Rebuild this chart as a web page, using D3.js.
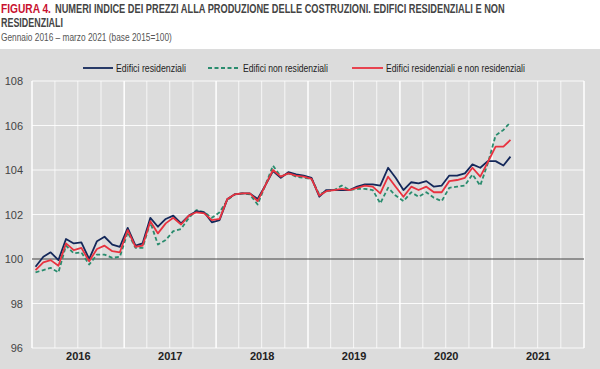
<!DOCTYPE html>
<html>
<head>
<meta charset="utf-8">
<script src="https://cdn.jsdelivr.net/npm/d3@7/dist/d3.min.js"></script>
<style>
  body { margin: 0; background: #fff; }
  svg { display: block; font-family: "Liberation Sans Narrow", "Arial Narrow", "Liberation Sans", sans-serif; }
</style>
</head>
<body>
<svg id="chart" width="600" height="369"></svg>
<script>
// monthly index values, Jan 2016 - Mar 2021 (base 2015=100)
var residenziali = [
  99.65, 100.1, 100.3, 99.95, 100.9, 100.7, 100.75, 100.0, 100.8, 101.0, 100.65, 100.55,
  101.4, 100.6, 100.7, 101.85, 101.45, 101.8, 101.95, 101.6, 101.95, 102.15, 102.1, 101.65,
  101.75, 102.7, 102.9, 102.95, 102.95, 102.7, 103.3, 103.95, 103.65, 103.9, 103.8, 103.75,
  103.65, 102.8, 103.1, 103.1, 103.1, 103.1, 103.25, 103.35, 103.35, 103.3, 104.1, 103.65,
  103.1, 103.45, 103.4, 103.5, 103.25, 103.3, 103.75, 103.75, 103.85, 104.25, 104.1, 104.4,
  104.4, 104.2, 104.6
];
var nonResidenziali = [
  99.4, 99.5, 99.6, 99.4, 100.6, 100.25, 100.3, 99.75, 100.2, 100.2, 100.05, 100.1,
  101.2, 100.5, 100.5, 101.65, 100.65, 100.85, 101.25, 101.35, 101.85, 102.2, 102.1, 101.85,
  102.1, 102.65, 102.9, 102.95, 102.9, 102.45, 103.3, 104.2, 103.7, 103.85, 103.7, 103.65,
  103.6, 102.9, 103.05, 103.1, 103.3, 103.1, 103.15, 103.15, 103.1, 102.5, 103.2, 102.85,
  102.6, 103.0, 102.8, 103.0, 102.75, 102.6, 103.2, 103.25, 103.3, 103.8, 103.3, 104.3,
  105.55, 105.8, 106.15
];
var totale = [
  99.5, 99.85, 99.95, 99.7, 100.7, 100.4, 100.5, 99.9, 100.45, 100.6, 100.35, 100.3,
  101.3, 100.55, 100.6, 101.7, 101.15, 101.6, 101.85, 101.55, 101.95, 102.1, 102.05, 101.75,
  101.8, 102.7, 102.9, 102.95, 102.95, 102.6, 103.3, 104.0, 103.7, 103.85, 103.75, 103.7,
  103.6, 102.85, 103.05, 103.1, 103.15, 103.1, 103.2, 103.3, 103.25, 102.95, 103.7, 103.25,
  102.8, 103.25, 103.1, 103.25, 103.0, 103.0, 103.5, 103.55, 103.65, 104.1, 103.7, 104.35,
  105.05, 105.05, 105.35
];
var years = [2016, 2017, 2018, 2019, 2020, 2021];
var yTicks = [96, 98, 100, 102, 104, 106, 108];
var seriesNames = ["Edifici residenziali", "Edifici non residenziali", "Edifici residenziali e non residenziali"];

var svg = d3.select("#chart");
var margin = {top: 81, right: 16, bottom: 21, left: 32};
var W = 600, H = 369;

// squeeze a text horizontally to a target width (keeps the glyph height)
function fitText(sel, px, py, width) {
  var natural = sel.node().getComputedTextLength();
  var sx = Math.min(1, width / natural);
  sel.attr("x", 0).attr("y", 0)
    .attr("transform", "translate(" + px + "," + py + ") scale(" + sx + ",1)");
  return sel;
}

// grey panel behind legend and plot
svg.append("rect").attr("x", 0).attr("y", 49).attr("width", W).attr("height", H - 49).attr("fill", "#dcdcdc");

// titles
fitText(svg.append("text").attr("font-size", 12.5).attr("font-weight", "bold").attr("fill", "#c8102e")
    .text("FIGURA 4."), 1, 13, 50);
fitText(svg.append("text").attr("font-size", 12.5).attr("font-weight", "bold").attr("fill", "#444")
    .text("NUMERI INDICE DEI PREZZI ALLA PRODUZIONE DELLE COSTRUZIONI. EDIFICI RESIDENZIALI E NON"), 55, 13, 450);
fitText(svg.append("text").attr("font-size", 12.5).attr("font-weight", "bold").attr("fill", "#444")
    .text("RESIDENZIALI"), 1, 27, 62);
fitText(svg.append("text").attr("font-size", 10.5).attr("fill", "#555")
    .text("Gennaio 2016 \u2013 marzo 2021 (base 2015=100)"), 1, 41, 171);

var x = d3.scaleTime()
    .domain([new Date(2016, 0, 1), new Date(2022, 0, 1)])
    .range([margin.left, W - margin.right]);
var y = d3.scaleLinear().domain([96, 108]).range([H - margin.bottom, margin.top]);

var g = svg.append("g");

// quarterly vertical gridlines, brighter at year starts
var quarters = d3.timeMonth.every(3).range(new Date(2016, 0, 1), new Date(2022, 0, 2));
g.selectAll(".vgrid").data(quarters).enter().append("line")
    .attr("x1", function (d) { return x(d); }).attr("x2", function (d) { return x(d); })
    .attr("y1", y(108)).attr("y2", y(96))
    .attr("stroke", "#fff")
    .attr("stroke-opacity", function (d) { return d.getMonth() === 0 ? 1 : 0.75; })
    .attr("stroke-width", function (d) { return d.getMonth() === 0 ? 1.5 : 1; });

// horizontal gridlines
g.selectAll(".hgrid").data(yTicks).enter().append("line")
    .attr("x1", x.range()[0]).attr("x2", x.range()[1])
    .attr("y1", function (d) { return y(d); }).attr("y2", function (d) { return y(d); })
    .attr("stroke", function (d) { return d === 100 ? "#444" : "#fff"; })
    .attr("stroke-width", 1)
    .attr("stroke-opacity", function (d) { return d === 100 ? 1 : 0.85; });

// y axis labels
var yAxis = svg.append("g").attr("transform", "translate(" + (margin.left - 7) + ",0)")
    .call(d3.axisLeft(y).tickValues(yTicks).tickSize(0).tickPadding(2));
yAxis.select(".domain").remove();
yAxis.selectAll("text").attr("font-size", 11).attr("fill", "#444")
    .attr("font-family", "\"Liberation Sans Narrow\", \"Liberation Sans\", sans-serif");

// x axis year labels centred on each year
var xAxis = svg.append("g").attr("transform", "translate(0," + (H - margin.bottom) + ")")
    .call(d3.axisBottom(x).tickValues(years.map(function (yr) { return new Date(yr, 6, 1); }))
      .tickFormat(d3.timeFormat("%Y")).tickSize(0).tickPadding(4));
xAxis.select(".domain").remove();
xAxis.selectAll("text").attr("font-size", 11).attr("font-weight", "bold").attr("fill", "#222")
    .attr("font-family", "\"Liberation Sans Narrow\", \"Liberation Sans\", sans-serif");

function monthDate(i) { return new Date(2016, i, 15); }
var line = d3.line()
    .x(function (d, i) { return x(monthDate(i)); })
    .y(function (d) { return y(d); });

var series = [
  {name: seriesNames[0], values: residenziali, color: "#14285a", dash: null},
  {name: seriesNames[1], values: nonResidenziali, color: "#2a8c6e", dash: "4,2.5"},
  {name: seriesNames[2], values: totale, color: "#e8323f", dash: null}
];
var drawOrder = [series[1], series[0], series[2]];
drawOrder.forEach(function (s) {
  g.append("path").datum(s.values)
    .attr("d", line)
    .attr("fill", "none")
    .attr("stroke", s.color)
    .attr("stroke-width", 1.8)
    .attr("stroke-linejoin", "round")
    .attr("stroke-dasharray", s.dash);
});

// legend
var legendPos = [{x: 83, w: 30, tw: 70}, {x: 208, w: 32, tw: 85}, {x: 352, w: 31, tw: 139}];
var legend = svg.append("g");
series.forEach(function (s, i) {
  var p = legendPos[i];
  legend.append("line").attr("x1", p.x).attr("x2", p.x + p.w).attr("y1", 68).attr("y2", 68)
    .attr("stroke", s.color).attr("stroke-width", 1.8).attr("stroke-dasharray", s.dash);
  fitText(legend.append("text").attr("font-size", 10).attr("fill", "#222").text(s.name),
    p.x + p.w + 3, 71.5, p.tw);
});
</script>
</body>
</html>
